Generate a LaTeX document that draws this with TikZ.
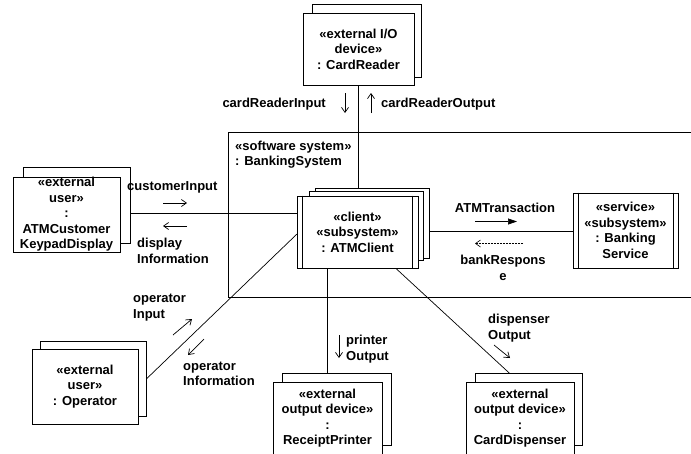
\documentclass[tikz,border=0pt]{standalone}
\usepackage{fontspec}
\setmainfont{Liberation Sans}
\usetikzlibrary{arrows.meta,calc}

\tikzset{
  txt/.style={font=\fontsize{13}{15.5}\selectfont\bfseries, inner sep=0pt},
  objbox/.style={txt, draw, fill=white, line width=0.9pt, align=center,
                 minimum width=#1},
  objbox/.default=108pt,
  shadowbox/.style={draw, fill=white, line width=0.9pt, minimum width=#1,
                    minimum height=72pt, inner sep=0pt},
  shadowbox/.default=108pt,
  link/.style={line width=0.7pt},
  msg/.style={line width=0.7pt, -{Straight Barb[length=5pt,width=7pt]}},
  async/.style={line width=0.7pt, -{Triangle[length=9pt,width=6pt]}},
  reply/.style={line width=0.6pt, dash pattern=on 2pt off 1pt,
                -{Straight Barb[length=5pt,width=7pt]}},
  lbl/.style={txt, align=left},
}

\begin{document}
\begin{tikzpicture}[x=1pt,y=-1pt]
\useasboundingbox (0,0) rectangle (691,453);

% enclosing software system
\node (sys) [draw, line width=0.9pt, minimum width=500pt, minimum height=165pt,
             anchor=north west, inner sep=0pt] at (228,132) {};
\node (syslbl) [lbl, anchor=north west] at (235,140.5)
  {«software system»\\: BankingSystem};

% connectors (drawn first so the boxes sit on top)
\coordinate (rd) at (358.5,85);
\coordinate (kpE) at (120,213.5);
\coordinate (opE) at (138,387);
\coordinate (clW) at (297,234);
\coordinate (clS1) at (327.5,268.5);
\coordinate (clS2) at (396,268.5);
\coordinate (clE) at (418,231);
\coordinate (bkW) at (573,231);
\coordinate (rpN) at (327.5,382);
\coordinate (cdN) at (519,382);

\draw[link] (rd) -- (358.5,196);
\draw[link] (kpE) -- (297,213.5);
\draw[link] (opE) -- (clW);
\draw[link] (clE) -- (bkW);
\draw[link] (clS1) -- (rpN);
\draw[link] (clS2) -- (cdN);

% CardReader
\node (crB) [shadowbox=109pt, minimum height=73pt] at (366.5,40.5) {};
\node (cr) [objbox=111pt, minimum height=72pt] at (358.5,49)
  {«external I/O\\device»\\: CardReader};

% ATMCustomerKeypadDisplay
\node (kpB) [shadowbox=107pt, minimum height=76pt] at (76.5,205) {};
\node (kp) [objbox=107pt, minimum height=75pt] at (66.5,214.5)
  {«external\\user»\\:\\ATMCustomer\\KeypadDisplay};

% ATMClient (multiple active object)
\node (clB2) [shadowbox=114pt, minimum height=70pt] at (372,223) {};
\node (clB1) [shadowbox=114pt, minimum height=69pt] at (366,225.5) {};
\node (cl) [objbox=121pt, minimum height=72.5pt] at (357.5,232.25)
  {«client»\\«subsystem»\\: ATMClient};
\draw[line width=0.9pt] ([xshift=6pt]cl.north west) -- ([xshift=6pt]cl.south west);
\draw[line width=0.9pt] ([xshift=-6pt]cl.north east) -- ([xshift=-6pt]cl.south east);

% BankingService
\node (bk) [objbox=105pt, minimum height=75pt] at (625.5,230.5)
  {«service»\\«subsystem»\\: Banking\\Service};
\draw[line width=0.9pt] ([xshift=6pt]bk.north west) -- ([xshift=6pt]bk.south west);
\draw[line width=0.9pt] ([xshift=-5pt]bk.north east) -- ([xshift=-5pt]bk.south east);

% Operator
\node (opB) [shadowbox=106pt, minimum height=75pt] at (93,378.5) {};
\node (op) [objbox=106pt, minimum height=75pt] at (85,386.5)
  {«external\\user»\\: Operator};

% ReceiptPrinter
\node (rpB) [shadowbox=109pt] at (336.5,409) {};
\node (rp) [objbox=109pt, minimum height=72pt] at (327.5,418)
  {«external\\output device»\\:\\ReceiptPrinter};

% CardDispenser
\node (cdB) [shadowbox=107pt] at (528.5,409) {};
\node (cd) [objbox=108pt, minimum height=72pt] at (520,418)
  {«external\\output device»\\:\\CardDispenser};

% message flows
\draw[msg] (345,93) -- (345,113);
\draw[msg] (371,113) -- (371,93);
\node (l1) [lbl, anchor=north east] at (326,98) {cardReaderInput};
\node (l2) [lbl, anchor=north west] at (381,98) {cardReaderOutput};

\draw[msg] (163,203) -- (187,203);
\draw[msg] (187,226) -- (163,226);
\node (l3) [lbl, anchor=north west] at (127,181) {customerInput};
\node (l4) [lbl, anchor=north west] at (137,238) {display\\Information};

\draw[async] (475,221.5) -- (517,221.5);
\draw[reply] (523,243.5) -- (475,243.5);
\node (l5) [txt, anchor=north] at (505,203) {ATMTransaction};
\node (l6) [txt, align=center, anchor=north] at (503,255) {bankRespons\\e};

\draw[msg] (173,335) -- (192,319);
\draw[msg] (204,339) -- (188,355);
\node (l7) [lbl, anchor=north west] at (133,294) {operator\\Input};
\node (l8) [lbl, anchor=north west] at (183,361.5) {operator\\Information};

\draw[msg] (339,335) -- (339,358);
\node (l9) [lbl, anchor=north west] at (346,335) {printer\\Output};

\draw[msg] (494,345) -- (510,358);
\node (l10) [lbl, anchor=north west] at (488,314) {dispenser\\Output};
\end{tikzpicture}
\end{document}
